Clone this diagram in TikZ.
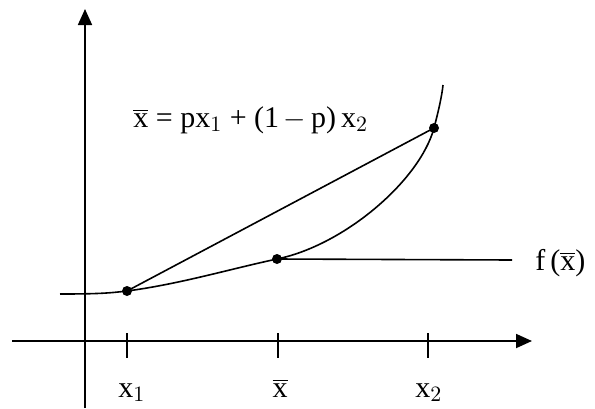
\documentclass[tikz,border=0pt]{standalone}
\usepackage{fontspec}
\setmainfont{Liberation Serif}
\usepackage{tikz}
\usetikzlibrary{arrows.meta, positioning}
\tikzset{
  axis/.style={draw=black, line width=0.9pt, -{Triangle[length=8pt, width=7pt]}},
  curve/.style={draw=black, line width=0.8pt},
  line/.style={draw=black, line width=0.8pt},
  tick/.style={draw=black, line width=0.8pt},
  dot/.style={circle, fill=black, inner sep=0pt, minimum size=5pt},
  lbl/.style={font=\fontsize{15}{18}\selectfont, inner sep=0pt}
}

\begin{document}
\begin{tikzpicture}[x=0.5pt, y=-0.5pt]
  \useasboundingbox (0,0) rectangle (595,408);

  % axes
  \coordinate (ybot) at (85,408);
  \coordinate (ytop) at (85,9);
  \coordinate (xleft) at (12,341);
  \coordinate (xright) at (532,341);
  \draw [axis] (ybot) -- (ytop);
  \draw [axis] (xleft) -- (xright);

  % points on the curve
  \node [dot] (p1) at (127,291) {};
  \node [dot] (m) at (277,259) {};
  \node [dot] (p2) at (434,128) {};
  \coordinate (cstart) at (60,294);
  \coordinate (cend) at (443,85);

  \draw [curve] (cstart) .. controls (100,294) and (110,293) .. (p1.center)
    .. controls (180,284) and (230,269) .. (m.center)
    .. controls (345,245) and (420,180) .. (p2.center)
    .. controls (439,109) and (442,95) .. (cend);
  \draw [line] (p1.center) -- (p2.center);
  \coordinate (fend) at (512,260);
  \draw [line] (m.center) -- (fend);

  % ticks
  \foreach \tx in {127, 278, 428}
    \draw [tick] (\tx,333) -- (\tx,358);

  % labels
  \node [lbl, anchor=base west] (l1) at (118,397) {x$_1$};
  \node [lbl, anchor=base] (lm) at (280,397) {$\overline{\mathrm{x}}$};
  \node [lbl, anchor=base west] (l2) at (415,397) {x$_2$};
  \node [lbl, anchor=base west] (fx) at (535,270) {f\,($\overline{\mathrm{x}}$)};
  \node [lbl, anchor=base west] (eq) at (133,127) {$\overline{\mathrm{x}}$ = px$_1$ + (1$\,-\,$p)\,x$_2$};
\end{tikzpicture}
\end{document}
